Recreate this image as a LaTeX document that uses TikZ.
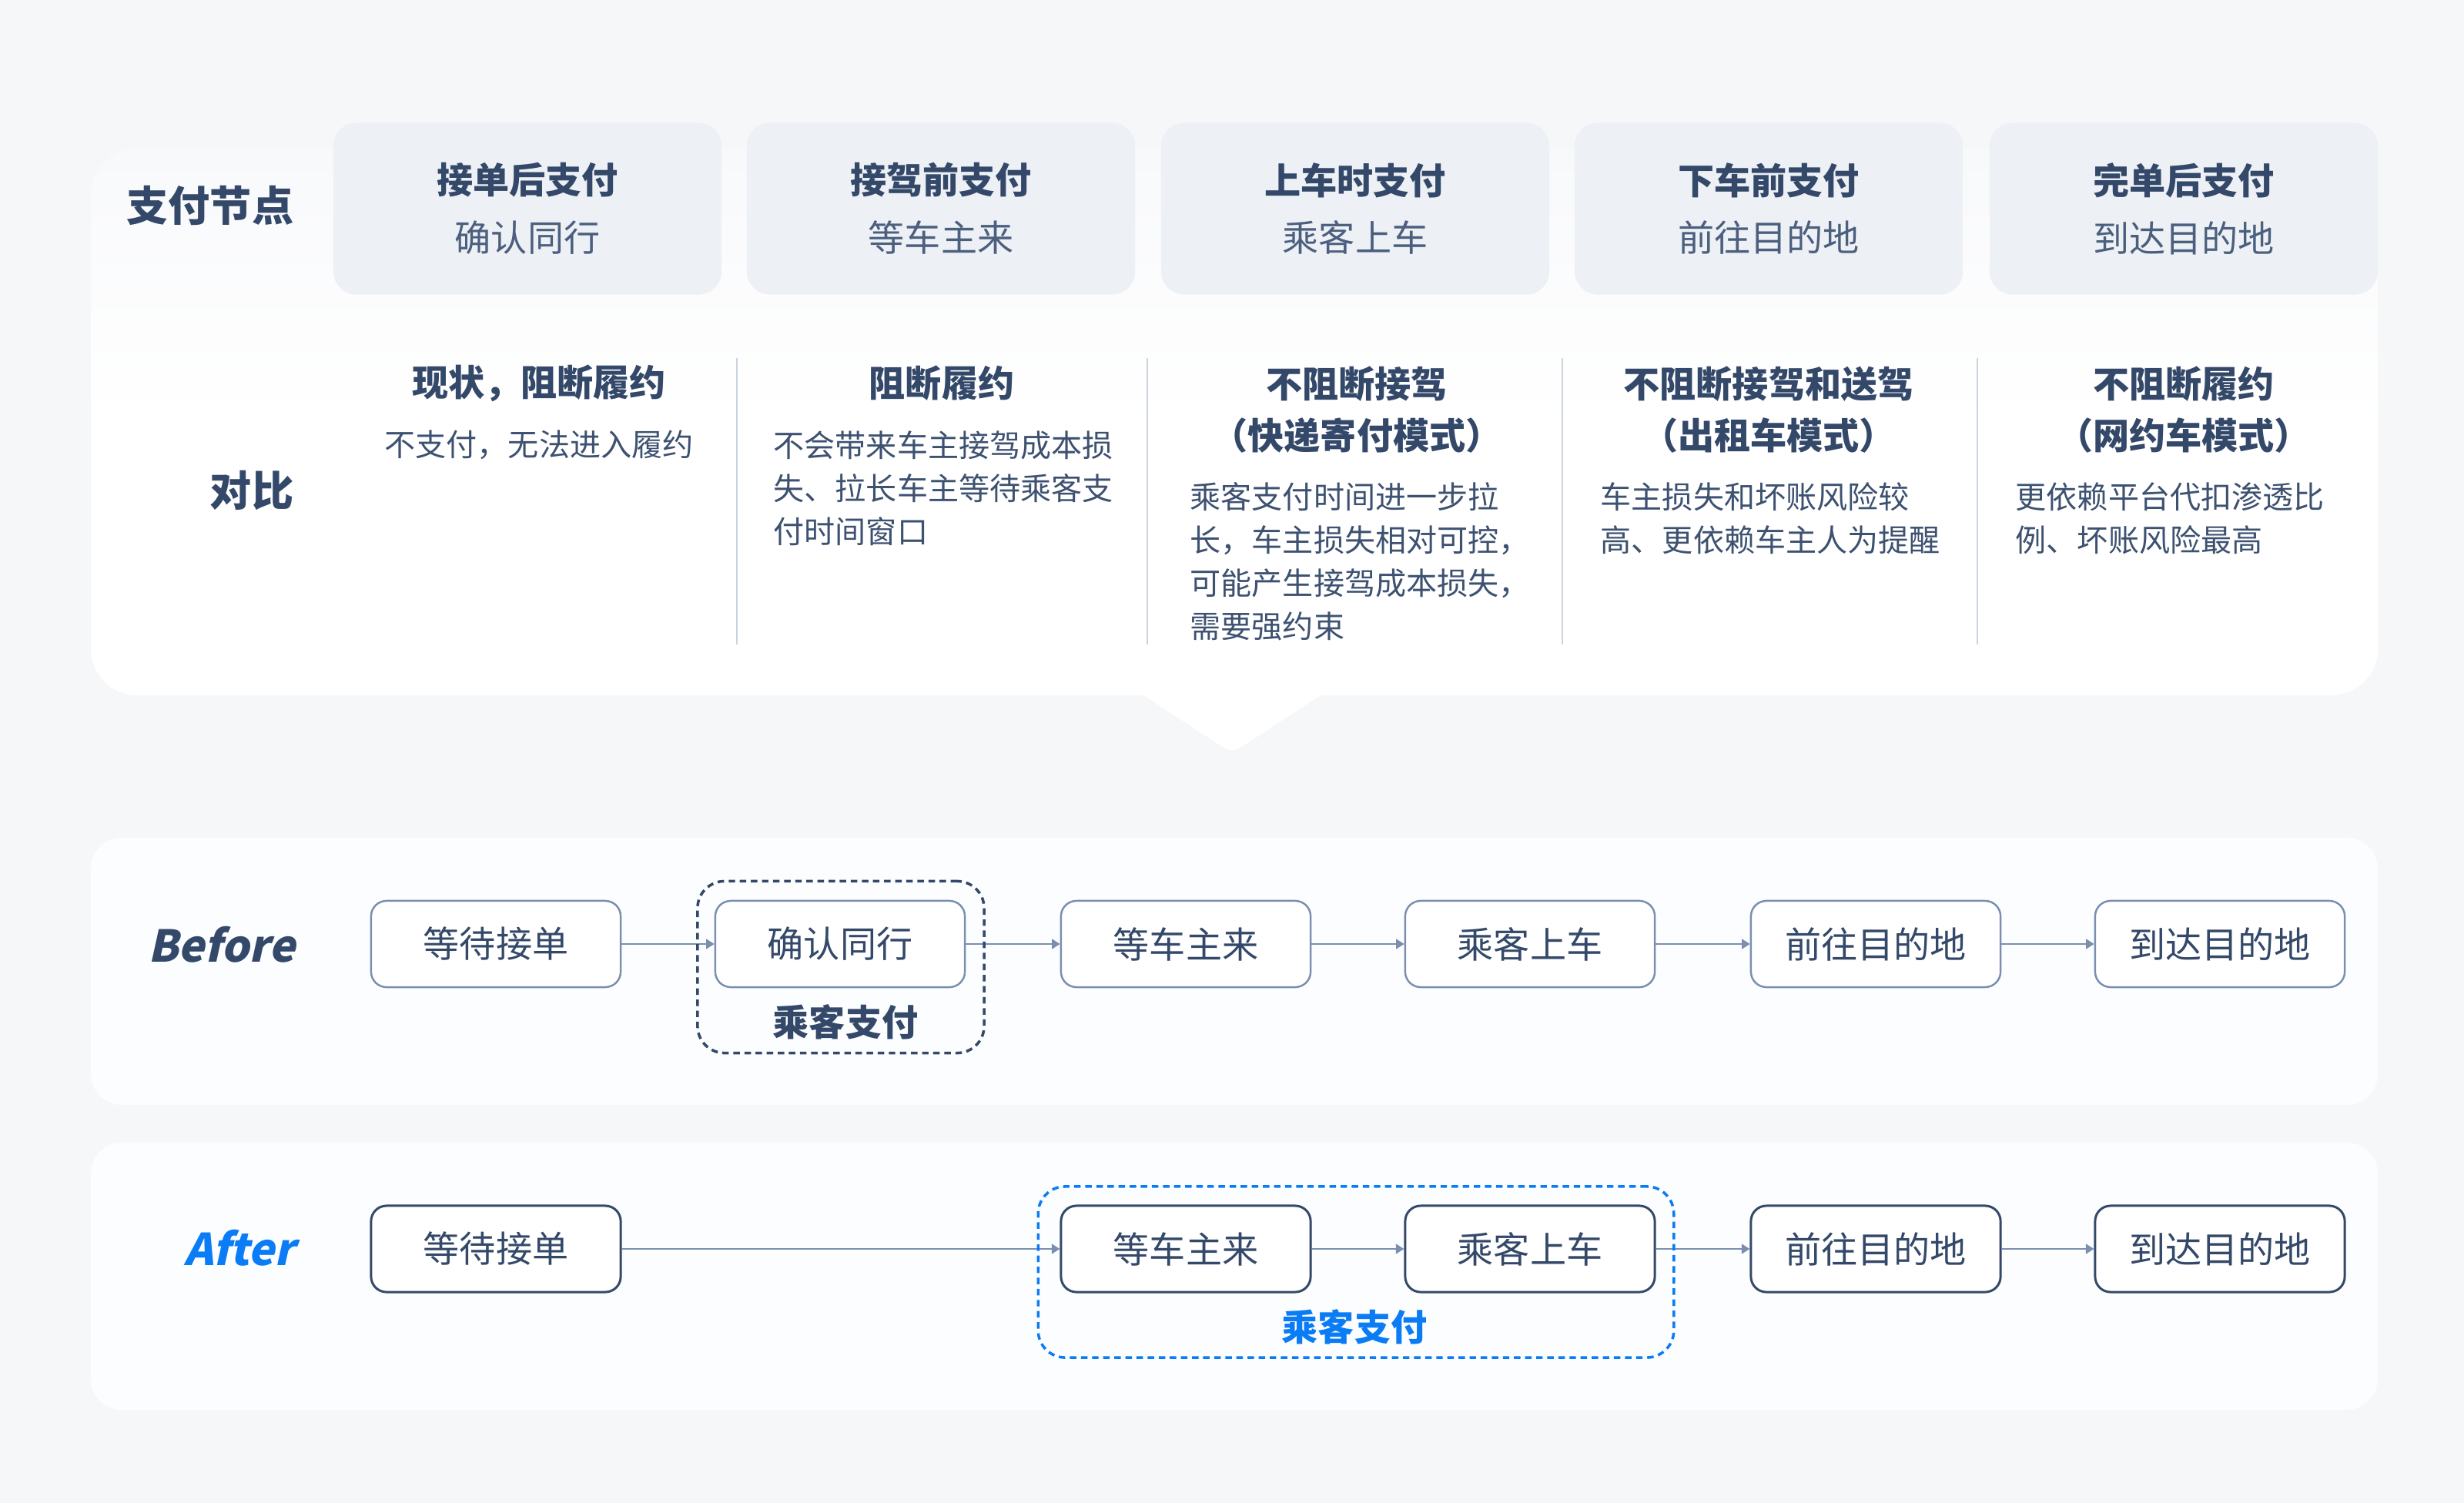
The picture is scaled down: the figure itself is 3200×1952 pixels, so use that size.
\documentclass[tikz,border=0pt]{standalone}
\usepackage{fontspec}
\setmainfont{Noto Sans CJK SC}
\newfontfamily\slantfont{Noto Sans CJK SC}[FakeSlant=0.22]
\usetikzlibrary{arrows.meta}
\definecolor{bgc}{HTML}{F6F7F9}
\definecolor{paneltop}{HTML}{F8F9FB}
\definecolor{panelc}{HTML}{FCFDFE}
\definecolor{cellc}{HTML}{EDF0F5}
\definecolor{ink}{HTML}{34496A}
\definecolor{inksub}{HTML}{4B5F7E}
\definecolor{bodyc}{HTML}{3D5171}
\definecolor{linec}{HTML}{7A8FB0}
\definecolor{sepc}{HTML}{CAD3DE}
\definecolor{bluec}{HTML}{0A7CF5}
\tikzset{
  hcell/.style={fill=cellc, rounded corners=0.3cm, minimum width=5.04cm, minimum height=2.23cm,
    align=center, inner sep=0, font=\fontsize{13.4}{21.3}\selectfont},
  head/.style={font=\bfseries\fontsize{13.4}{19.1}\selectfont, text=ink, align=center, inner sep=0},
  bodytxt/.style={font=\fontsize{11.4}{15.9}\selectfont, text=bodyc, align=left, inner sep=0, anchor=west},
  lab/.style={font=\bfseries\fontsize{15.4}{18}\selectfont, text=ink, anchor=east, inner sep=0},
  englab/.style={font=\slantfont\bfseries\fontsize{16.2}{20}\selectfont, anchor=east, inner sep=0},
  stage/.style={draw=linec, line width=0.7pt, fill=white, rounded corners=0.2cm, minimum width=3.24cm,
    minimum height=1.12cm, inner sep=0, text=ink, font=\fontsize{13.4}{16}\selectfont},
  stageb/.style={stage, draw=ink, line width=0.85pt},
  arr/.style={draw=linec, line width=0.7pt, -{Triangle[length=3pt,width=3.6pt]}},
  dashbox/.style={draw=ink, line width=1pt, dash pattern=on 2.4pt off 1.7pt, rounded corners=0.35cm, inner sep=0},
  paytxt/.style={font=\bfseries\fontsize{13.4}{16}\selectfont, text=ink, inner sep=0},
  sepline/.style={draw=sepc, line width=0.55pt},
  panel/.style={fill=panelc, rounded corners=0.4cm}
}
\begin{document}
\begin{tikzpicture}[x=0.01cm, y=-0.01cm]
\path[use as bounding box, fill=bgc] (0,0) rectangle (3200,1952);
% top panel with pointer (fades into the background at its top)
\shade[top color=paneltop, bottom color=white, middle color=white, rounded corners=0.6cm] (118,193) rectangle (3088,903);
\fill[white, rounded corners=0.12cm] (1465,890) -- (1600,978) -- (1735,890) -- cycle;
% lower panels
\fill[panel] (118,1088) rectangle (3088,1435);
\fill[panel] (118,1484) rectangle (3088,1831);
% header row
\node[lab] (lzf) at (382,267) {支付节点};
\node[hcell] (h1) at (685,271) {\textcolor{ink}{\bfseries 接单后支付}\\\textcolor{inksub}{确认同行}};
\node[hcell] (h2) at (1222,271) {\textcolor{ink}{\bfseries 接驾前支付}\\\textcolor{inksub}{等车主来}};
\node[hcell] (h3) at (1760,271) {\textcolor{ink}{\bfseries 上车时支付}\\\textcolor{inksub}{乘客上车}};
\node[hcell] (h4) at (2297,271) {\textcolor{ink}{\bfseries 下车前支付}\\\textcolor{inksub}{前往目的地}};
\node[hcell] (h5) at (2836,271) {\textcolor{ink}{\bfseries 完单后支付}\\\textcolor{inksub}{到达目的地}};
% comparison
\node[lab] (ldb) at (382,637) {对比};
\draw[sepline] (957,465) -- (957,837);
\draw[sepline] (1490,465) -- (1490,837);
\draw[sepline] (2029,465) -- (2029,837);
\draw[sepline] (2568,465) -- (2568,837);
\node[head] (c1h) at (700,498) {现状，阻断履约};
\node[bodytxt, anchor=center] (c1b) at (700,578) {不支付，无法进入履约};
\node[head] (c2h) at (1223,498) {阻断履约};
\node[bodytxt] (c2b) at (1004,634) {不会带来车主接驾成本损\\失、拉长车主等待乘客支\\付时间窗口};
\node[head] (c3h) at (1762,532) {不阻断接驾\\（快递寄付模式）};
\node[bodytxt] (c3b) at (1545,729) {乘客支付时间进一步拉\\长，车主损失相对可控，\\可能产生接驾成本损失，\\需要强约束};
\node[head] (c4h) at (2297,532) {不阻断接驾和送驾\\（出租车模式）};
\node[bodytxt] (c4b) at (2078,673) {车主损失和坏账风险较\\高、更依赖车主人为提醒};
\node[head] (c5h) at (2836,532) {不阻断履约\\（网约车模式）};
\node[bodytxt] (c5b) at (2617,673) {更依赖平台代扣渗透比\\例、坏账风险最高};
% Before row
\node[englab, text=ink] (lbefore) at (384,1227) {Before};
\node[stage] (b1) at (644,1226) {等待接单};
\node[stage] (b2) at (1091,1226) {确认同行};
\node[stage] (b3) at (1540,1226) {等车主来};
\node[stage] (b4) at (1987,1226) {乘客上车};
\node[stage] (b5) at (2436,1226) {前往目的地};
\node[stage] (b6) at (2883,1226) {到达目的地};
\draw[arr] (b1) -- (b2);
\draw[arr] (b2) -- (b3);
\draw[arr] (b3) -- (b4);
\draw[arr] (b4) -- (b5);
\draw[arr] (b5) -- (b6);
\node[dashbox, minimum width=3.72cm, minimum height=2.23cm] (bpay) at (1092,1256) {};
\node[paytxt] (bpayt) at (1098,1327) {乘客支付};
% After row
\node[englab, text=bluec] (lafter) at (384,1621) {After};
\node[stageb] (a1) at (644,1622) {等待接单};
\node[stageb] (a3) at (1540,1622) {等车主来};
\node[stageb] (a4) at (1987,1622) {乘客上车};
\node[stageb] (a5) at (2436,1622) {前往目的地};
\node[stageb] (a6) at (2883,1622) {到达目的地};
\draw[arr] (a1) -- (a3);
\draw[arr] (a3) -- (a4);
\draw[arr] (a4) -- (a5);
\draw[arr] (a5) -- (a6);
\node[dashbox, draw=bluec, minimum width=8.25cm, minimum height=2.22cm] (apay) at (1761,1652) {};
\node[paytxt, text=bluec] (apayt) at (1759,1723) {乘客支付};
\end{tikzpicture}
\end{document}
